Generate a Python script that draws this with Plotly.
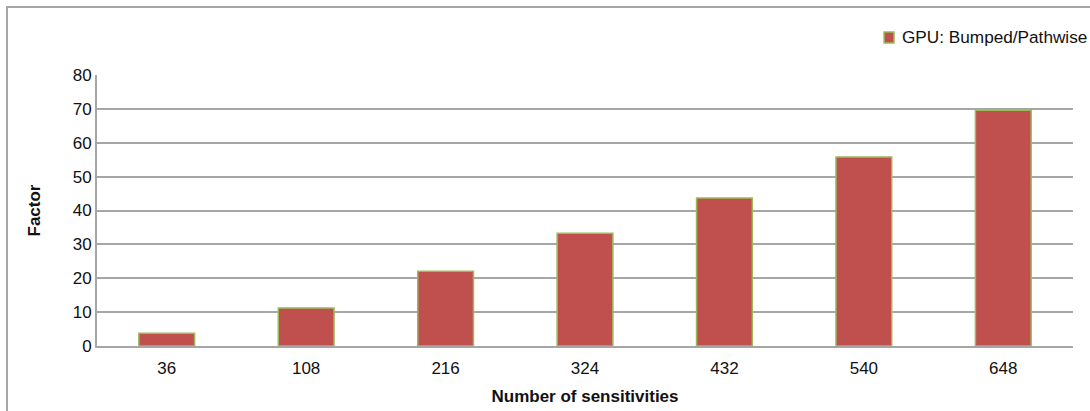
import plotly.graph_objects as go

# Speed-up factor of bumped vs pathwise sensitivities on GPU
sensitivities = ["36", "108", "216", "324", "432", "540", "648"]
factor = [3.8, 11.2, 22.1, 33.3, 43.7, 55.8, 69.6]
series_name = "GPU: Bumped/Pathwise"

FONT = "Liberation Sans, Arial, sans-serif"
GRID = "#a6a6a6"
BAR_FILL = "#c0504d"
BAR_EDGE = "#9bbb59"

fig = go.Figure()
fig.add_trace(go.Bar(
    x=sensitivities,
    y=factor,
    name=series_name,
    width=0.4,
    marker=dict(color=BAR_FILL, line=dict(color=BAR_EDGE, width=1.5)),
    showlegend=False,
))

# outer chart frame (right/bottom edges fall outside the page)
fig.add_shape(type="rect", xref="paper", yref="paper",
              x0=-0.0922, x1=1.1, y0=-0.3, y1=1.2509,
              line=dict(color="#a6a6a6", width=2), layer="below")

# legend key, placed by hand so it can hang past the plot's right edge
fig.add_shape(type="rect", xref="paper", yref="paper",
              x0=0.8064, x1=0.8166, y0=1.118, y1=1.1587,
              fillcolor=BAR_FILL, line=dict(color=BAR_EDGE, width=1.5))
fig.add_annotation(xref="paper", yref="paper", x=0.8228, y=1.140,
                   xanchor="left", yanchor="middle", showarrow=False,
                   text=series_name,
                   font=dict(family=FONT, size=17.2, color="#111111"))

fig.update_layout(
    width=1090, height=411,
    margin=dict(l=97, r=17, t=75, b=65),
    paper_bgcolor="white",
    plot_bgcolor="white",
    font=dict(family=FONT, size=17, color="#111111"),
    showlegend=False,
    xaxis=dict(
        type="category",
        automargin=False,
        showgrid=False,
        showline=True, linecolor=GRID, linewidth=2,
        ticks="", tickfont=dict(size=17), ticklabelstandoff=6,
        title=dict(text="<b>Number of sensitivities</b>",
                   font=dict(family=FONT, size=17), standoff=13),
    ),
    yaxis=dict(
        range=[0, 80], dtick=10,
        automargin=False,
        showgrid=True, gridcolor=GRID, gridwidth=1.5,
        showline=True, linecolor=GRID, linewidth=2,
        zeroline=False,
        ticks="", tickfont=dict(size=17), ticklabelstandoff=0,
        title=dict(text="<b>Factor</b>",
                   font=dict(family=FONT, size=17), standoff=28),
    ),
)

fig.write_html("out.html")
